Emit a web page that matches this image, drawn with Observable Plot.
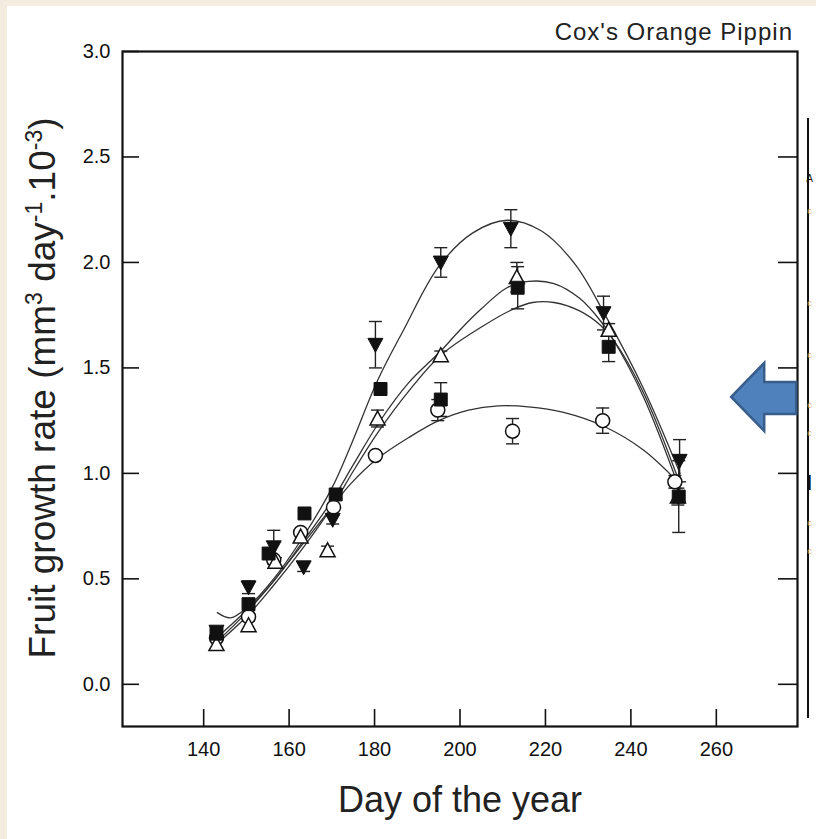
<!DOCTYPE html>
<html><head><meta charset="utf-8">
<script src="https://cdn.jsdelivr.net/npm/d3@7"></script>
<script src="https://cdn.jsdelivr.net/npm/@observablehq/plot@0.6"></script>
<style>
body{margin:0;background:#f3ecdf;width:816px;height:839px;overflow:hidden;position:relative;font-family:"Liberation Sans",Arial,sans-serif;}
#panel{position:absolute;left:7px;top:6px;width:809px;height:833px;background:#fff;overflow:hidden;}
</style></head><body><div id="panel"></div>
<script>
// ---- data ----
const xTicks = [140,160,180,200,220,240,260];
const yTicks = [0.0,0.5,1.0,1.5,2.0,2.5,3.0];

// filled down-triangles
const downDays = [143,150.5,156.4,163.4,170.2,180.2,195.5,211.9,233.6,251.4];
const downVals = [0.25,0.46,0.65,0.555,0.78,1.61,2.00,2.16,1.76,1.06];
const downErr  = [0,0.03,0.08,0.02,0.02,0.11,0.07,0.09,0.08,0.10];
// filled squares
const sqDays = [143,150.5,155.2,163.6,170.9,181.4,195.5,213.5,234.8,251.2];
const sqVals = [0.24,0.38,0.62,0.81,0.90,1.40,1.35,1.88,1.60,0.89];
const sqErr  = [0,0,0,0,0.02,0.03,0.08,0.10,0.07,0.17];
// open up-triangles
const triDays = [143,150.5,156.8,162.7,169,180.7,195.5,213.3,234.8,251];
const triVals = [0.19,0.28,0.58,0.70,0.635,1.26,1.56,1.93,1.68,0.89];
const triErr  = [0.02,0.02,0.02,0.02,0.02,0.04,0.02,0.07,0.03,0.04];
// open circles
const cirDays = [143,150.5,156.4,162.7,170.4,180.2,194.8,212.3,233.4,250.3];
const cirVals = [0.22,0.32,0.59,0.72,0.84,1.085,1.30,1.20,1.25,0.96];
const cirErr  = [0,0,0,0,0,0,0.05,0.06,0.06,0.03];

// fitted curves (knots)
const curveDown = [[143.2,0.34],[146.3,0.315],[150.5,0.37],[156,0.49],[163,0.69],[170,0.93],[174.4,1.13],[180.7,1.44],[186.8,1.68],[195,1.98],[203,2.14],[211,2.20],[219,2.15],[227,1.99],[234,1.75],[243,1.40],[251.5,1.00]];
const curveSq = [[143,0.22],[150,0.35],[156,0.48],[163,0.67],[170,0.87],[175,1.04],[181,1.24],[188,1.43],[195.5,1.58],[200,1.68],[205,1.78],[211,1.88],[216,1.91],[222,1.90],[228,1.83],[233,1.72],[236,1.63],[243,1.36],[251.5,0.92]];
const curveTri = [[143,0.19],[150,0.32],[156,0.46],[163,0.64],[170,0.84],[175,1.01],[181,1.20],[188,1.39],[195.5,1.56],[205.5,1.70],[212.6,1.78],[217,1.81],[222,1.81],[228,1.77],[233,1.70],[236,1.63],[243,1.38],[251.5,0.95]];
const curveCir = [[143,0.20],[150,0.34],[156,0.48],[163,0.66],[170,0.84],[174.4,0.95],[180.7,1.07],[188,1.17],[195,1.25],[202,1.30],[209,1.32],[216,1.315],[224,1.29],[234,1.22],[243,1.11],[250.5,0.97]];

const title = "Cox's Orange Pippin";
const xLabel = "Day of the year";

// ---- build ----
const rows = (days, vals, errs, s) => days.map((d,i)=>({day:d, v:vals[i], e:errs[i], s}));
const down = rows(downDays, downVals, downErr, "down");
const sq = rows(sqDays, sqVals, sqErr, "sq");
const tri = rows(triDays, triVals, triErr, "tri");
const cir = rows(cirDays, cirVals, cirErr, "cir");
const all = [...cir, ...tri, ...sq, ...down];
const errs = all.filter(d => d.e > 0);
const curves = [curveDown, curveSq, curveTri, curveCir].flatMap((c,k)=>c.map(([d,v])=>({day:d, v, k})));

const rOf = size => Math.sqrt(size/Math.PI);
const triUp = {draw(ctx,size){const r=rOf(size);ctx.moveTo(0,-r);ctx.lineTo(r,r*0.85);ctx.lineTo(-r,r*0.85);ctx.closePath();}};
const triDown = {draw(ctx,size){const r=rOf(size);ctx.moveTo(0,r);ctx.lineTo(r,-r*0.85);ctx.lineTo(-r,-r*0.85);ctx.closePath();}};
const cap = {draw(ctx,size){const r=rOf(size);ctx.moveTo(-r,0);ctx.lineTo(r,0);}};

const ink = "#111";
const chart = Plot.plot({
  width: 809, height: 833,
  marginLeft: 115, marginRight: 19, marginTop: 45, marginBottom: 113,
  x: {domain: [121, 279]},
  y: {domain: [-0.2, 3.0]},
  style: {fontFamily: "'Liberation Sans', Arial, sans-serif", background: "transparent", color: ink},
  marks: [
    Plot.axisX(xTicks, {tickSize: -17, tickPadding: 32, fontSize: 20, label: null, stroke: ink, strokeWidth: 1.6, fill: "#111"}),
    Plot.axisY(yTicks, {tickSize: -17, tickPadding: 29, fontSize: 20, label: null, tickFormat: d3.format(".1f"), stroke: ink, strokeWidth: 1.6, fill: "#111"}),
    Plot.axisY(yTicks.filter(t => t < 3), {anchor: "right", tickSize: -20, tickFormat: () => "", label: null, stroke: ink, strokeWidth: 1.6}),
    Plot.frame({stroke: ink, strokeWidth: 2.2}),
    Plot.line(curves, {x: "day", y: "v", z: "k", curve: "catmull-rom", stroke: "#333", strokeWidth: 1.3}),
    Plot.ruleX(errs, {x: "day", y1: d => d.v - d.e, y2: d => d.v + d.e, stroke: "#222", strokeWidth: 1.4}),
    Plot.dot(errs, {x: "day", y: d => d.v + d.e, symbol: cap, r: 6.5, stroke: "#222", strokeWidth: 1.4}),
    Plot.dot(errs, {x: "day", y: d => d.v - d.e, symbol: cap, r: 6.5, stroke: "#222", strokeWidth: 1.4}),
    Plot.dot(cir, {x: "day", y: "v", r: 7, fill: "white", stroke: ink, strokeWidth: 1.5}),
    Plot.dot(tri, {x: "day", y: "v", symbol: triUp, r: 7.5, fill: "white", stroke: ink, strokeWidth: 1.5}),
    Plot.dot(down, {x: "day", y: "v", symbol: triDown, r: 7.5, fill: ink, stroke: ink, strokeWidth: 1}),
    Plot.dot(sq, {x: "day", y: "v", symbol: "square", r: 7.3, fill: ink, stroke: ink, strokeWidth: 1})
  ]
});
document.getElementById("panel").appendChild(chart);

const svg = d3.select(chart);
const xs = chart.scale("x"), ys = chart.scale("y");
// title
svg.append("text").attr("x", 786).attr("y", 33.5).attr("text-anchor", "end")
  .attr("font-size", 24).attr("letter-spacing", 1).attr("fill", "#222").text(title);
// x label
svg.append("text").attr("x", 453).attr("y", 806).attr("text-anchor", "middle")
  .attr("font-size", 36).attr("fill", "#222").text(xLabel);
// y label with superscripts
const yl = svg.append("text").attr("transform", "translate(48,382) rotate(-90)")
  .attr("text-anchor", "middle").attr("font-size", 37).attr("fill", "#222");
yl.append("tspan").text("Fruit growth rate (mm");
yl.append("tspan").attr("dy", -13).attr("font-size", 23).text("3");
yl.append("tspan").attr("dy", 13).text(" day");
yl.append("tspan").attr("dy", -13).attr("font-size", 23).text("-1");
yl.append("tspan").attr("dy", 13).text(".10");
yl.append("tspan").attr("dy", -13).attr("font-size", 23).text("-3");
yl.append("tspan").attr("dy", 13).text(")");

// blue arrow annotation, tip anchored in data space
const tx = xs.apply(263.6), ty = ys.apply(1.36);
svg.append("path").attr("transform", `translate(${tx},${ty})`)
  .attr("d", "M0,0 L33,-34 L33,-15 L65,-15 L65,17 L33,17 L33,34 Z")
  .attr("fill", "#4f81bd").attr("stroke", "#385d8a").attr("stroke-width", 2.5).attr("stroke-linejoin", "miter");

// fragment of neighbouring slide at the right edge
svg.append("line").attr("x1", 801).attr("x2", 801).attr("y1", 112).attr("y2", 712).attr("stroke", "#111").attr("stroke-width", 2);
const frag = [["A",176,"#111",10],["c",208,"#e3a94f",9],["c",300,"#e3a94f",9],["c",352,"#e3a94f",9],["c",402,"#e3a94f",9],["c",430,"#e3a94f",9],["I",484,"#111",22],["c",520,"#e3a94f",9],["c",548,"#e3a94f",9]];
frag.forEach(([t,y,c,f]) => svg.append("text").attr("x", 802.5).attr("y", y).attr("font-size", f).attr("fill", c).text(t));
</script>
</body></html>
